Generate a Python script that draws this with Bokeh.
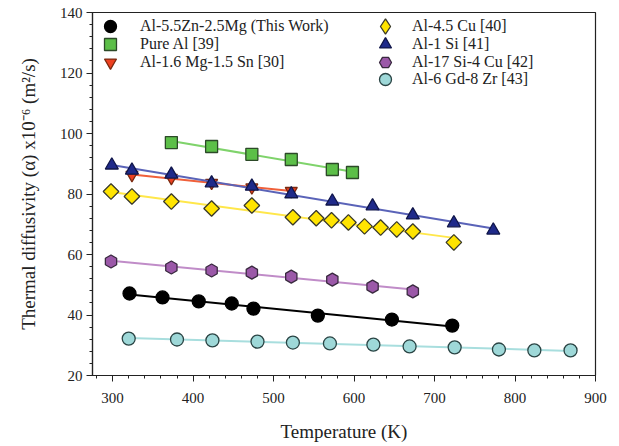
import numpy as np
from bokeh.plotting import figure
from bokeh.models import Legend, LegendItem, Range1d, SingleIntervalTicker
from bokeh.embed import file_html
from bokeh.resources import INLINE

# ---- data ----
t_this = [321, 362, 407, 448, 475, 555, 647, 722]
a_this = [47.1, 45.8, 44.5, 43.8, 42.1, 39.8, 38.5, 36.5]
t_pure = [373, 423, 473, 522, 573, 598]
a_pure = [97.0, 95.7, 93.1, 91.4, 88.1, 87.1]
t_mgsn = [324, 373, 423, 473, 522]
a_mgsn = [86.3, 85.3, 83.7, 82.2, 81.0]
t_cu = [298, 324, 373, 423, 473, 524, 553, 572, 593, 613, 633, 653, 673, 724]
a_cu = [80.8, 79.2, 77.5, 75.2, 76.2, 72.3, 72.0, 71.3, 70.6, 69.3, 68.9, 68.3, 67.6, 64.0]
t_si = [299, 324, 373, 423, 473, 522, 573, 623, 673, 724, 773]
a_si = [89.5, 87.8, 86.5, 83.6, 82.5, 80.0, 77.6, 76.0, 73.0, 70.4, 68.0]
t_sicu = [298, 373, 423, 473, 522, 573, 623, 673]
a_sicu = [57.7, 55.7, 54.7, 54.0, 52.7, 51.7, 49.4, 47.8]
t_gdzr = [320, 380, 424, 480, 524, 570, 624, 669, 725, 780, 824, 869]
a_gdzr = [32.2, 31.9, 31.6, 31.2, 30.9, 30.6, 30.2, 29.6, 29.3, 28.6, 28.3, 28.3]

labels = ["Al-5.5Zn-2.5Mg (This Work)", "Pure Al [39]", "Al-1.6 Mg-1.5 Sn [30]",
          "Al-4.5 Cu [40]", "Al-1 Si [41]", "Al-17 Si-4 Cu [42]", "Al-6 Gd-8 Zr [43]"]

FONT = "Liberation Serif"

p = figure(width=619, height=446, output_backend="svg", toolbar_location=None,
           x_range=Range1d(275, 900), y_range=Range1d(20, 140),
           min_border_left=92, min_border_right=24, min_border_top=12,
           min_border_bottom=71)
p.background_fill_color = "white"
p.border_fill_color = "white"
p.outline_line_color = "#222222"
p.outline_line_width = 1.2
p.xgrid.visible = False
p.ygrid.visible = False

p.xaxis.ticker = SingleIntervalTicker(interval=100, num_minor_ticks=5)
p.yaxis.ticker = SingleIntervalTicker(interval=20, num_minor_ticks=5)
for ax in (p.xaxis[0], p.yaxis[0]):
    ax.axis_line_color = "#222222"
    ax.axis_line_width = 1.2
    ax.major_tick_in = 0
    ax.major_tick_out = 6
    ax.minor_tick_in = 0
    ax.minor_tick_out = 3
    ax.major_tick_line_color = "#222222"
    ax.minor_tick_line_color = "#222222"
    ax.major_label_text_font = FONT
    ax.major_label_text_font_size = "15px"
    ax.major_label_text_color = "#222222"
    ax.axis_label_text_font = FONT
    ax.axis_label_text_font_size = "19px"
    ax.axis_label_text_font_style = "normal"
    ax.axis_label_text_color = "#222222"

p.xaxis.axis_label = "Temperature (K)"
p.yaxis.axis_label = "Thermal diffusivity (\u03b1) x10\u207b\u2076 (m\u00b2/s)"
p.xaxis.major_label_standoff = 11
p.yaxis.major_label_standoff = 4
p.xaxis.axis_label_standoff = 15
p.yaxis.axis_label_standoff = 18

series = [
    (t_this, a_this, "circle", 13, "black", "black", "black", 0.0),
    (t_pure, a_pure, "square", 12, "#5cbf48", "#2c4a28", "#7fd36b", 0.0),
    (t_mgsn, a_mgsn, "inverted_triangle", 12, "#ee4020", "#7a2a10", "#f0603a", 0.0),
    (t_cu, a_cu, "square", 11, "#ffe400", "#3a3a2a", "#ffe74a", np.pi / 4),
    (t_si, a_si, "triangle", 13, "#1f2a8a", "#10164a", "#5a63b8", 0.0),
    (t_sicu, a_sicu, "hex", 13, "#9b58a8", "#3a2a40", "#c08cc8", np.pi / 2),
    (t_gdzr, a_gdzr, "circle", 13, "#9ed8d8", "#2a4444", "#a8dede", 0.0),
]

items = []
swatch = []   # glyph box size for each legend entry
for (t, a, marker, size, fill, outline, lcol, ang), lab in zip(series, labels):
    k, b = np.polyfit(t, a, 1)
    xs = [min(t), max(t)]
    p.line(xs, [k * xs[0] + b, k * xs[1] + b], line_color=lcol, line_width=2)
    r = p.scatter(t, a, marker=marker, size=size, fill_color=fill,
                  line_color=outline, line_width=1.3, angle=ang)
    box = 30
    if ang != 0.0 and marker == "square":
        # the legend does not rotate markers: a hidden diamond renderer as swatch
        r = p.scatter(t, a, marker="diamond", size=size, fill_color=fill,
                      line_color=outline, line_width=1.3, visible=False)
        box = 38
    items.append(LegendItem(label=lab, renderers=[r]))
    swatch.append(box)

# one single-entry legend per row (lets the swatches be large while rows stay tight)
frame_h = 363          # frame height in px (for placing the legend rows)
col_cx = [18, 293]     # swatch centre, px from frame left
col_tx = [48, 320]     # label start, px from frame left
row_cy = [14, 31.8, 49.6, 67.4]   # row centre, px from frame top
cols = [list(range(0, 3)), list(range(3, 7))]
for ci, col in enumerate(cols):
    for ri, idx in enumerate(col):
        box = swatch[idx]
        lx = int(round(col_cx[ci] - box / 2))
        ly = frame_h - (row_cy[ri] + box / 2)
        lg = Legend(items=[items[idx]], location=(lx, ly),
                    orientation="vertical",
                    border_line_color=None, background_fill_alpha=0.0,
                    inactive_fill_alpha=0.0,
                    padding=0, margin=0, spacing=0,
                    glyph_width=box, glyph_height=box, label_height=17,
                    label_standoff=int(col_tx[ci] - (lx + box)),
                    label_text_font=FONT, label_text_font_size="16px",
                    label_text_color="#222222")
        p.add_layout(lg)

open("out.html", "w").write(file_html(p, INLINE))
